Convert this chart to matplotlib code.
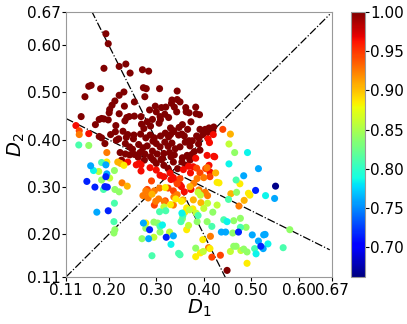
import numpy as np
import matplotlib
matplotlib.use("Agg")
import matplotlib.pyplot as plt

# ── Data (D1, D2) grouped by colour level ────────────────────────────────────
maroon = [
    (0.194, 0.624), (0.199, 0.603),
    (0.190, 0.551), (0.222, 0.555), (0.236, 0.560), (0.245, 0.541), (0.271, 0.548), (0.284, 0.545),
    (0.158, 0.513), (0.163, 0.515), (0.183, 0.508), (0.273, 0.510), (0.279, 0.508), (0.307, 0.508),
    (0.344, 0.503), (0.232, 0.501), (0.222, 0.494), (0.150, 0.491), (0.276, 0.491), (0.254, 0.480),
    (0.142, 0.449),
    (0.213, 0.482), (0.207, 0.473), (0.202, 0.464), (0.201, 0.457), (0.233, 0.471), (0.222, 0.455),
    (0.254, 0.450), (0.286, 0.463), (0.298, 0.471), (0.300, 0.459), (0.311, 0.468), (0.320, 0.469),
    (0.332, 0.477), (0.333, 0.484), (0.344, 0.485), (0.350, 0.480), (0.338, 0.469), (0.343, 0.459),
    (0.362, 0.468), (0.363, 0.459), (0.369, 0.457), (0.383, 0.469), (0.384, 0.455), (0.391, 0.453),
    (0.318, 0.454), (0.308, 0.449),
    (0.180, 0.443), (0.185, 0.445), (0.190, 0.444), (0.172, 0.432), (0.199, 0.442), (0.215, 0.430),
    (0.234, 0.440), (0.238, 0.447), (0.243, 0.449), (0.268, 0.449), (0.269, 0.433), (0.274, 0.424),
    (0.281, 0.438), (0.288, 0.429), (0.292, 0.443), (0.306, 0.435), (0.309, 0.443), (0.326, 0.447),
    (0.330, 0.425), (0.337, 0.419), (0.348, 0.426), (0.355, 0.432), (0.366, 0.422), (0.373, 0.438),
    (0.392, 0.422), (0.403, 0.422), (0.411, 0.425), (0.421, 0.427), (0.214, 0.417), (0.230, 0.418),
    (0.240, 0.411), (0.253, 0.410),
    (0.180, 0.407), (0.185, 0.404), (0.204, 0.411), (0.221, 0.402), (0.237, 0.405), (0.252, 0.402),
    (0.267, 0.412), (0.278, 0.404), (0.287, 0.410), (0.296, 0.404), (0.309, 0.408), (0.319, 0.414),
    (0.326, 0.406), (0.330, 0.411), (0.336, 0.417), (0.347, 0.410), (0.354, 0.412), (0.359, 0.408),
    (0.369, 0.398), (0.385, 0.408), (0.390, 0.403), (0.398, 0.411), (0.408, 0.416), (0.419, 0.418),
    (0.192, 0.392), (0.216, 0.399), (0.235, 0.392), (0.244, 0.385), (0.250, 0.380), (0.263, 0.390),
    (0.272, 0.383), (0.281, 0.387), (0.293, 0.397), (0.300, 0.392), (0.308, 0.385), (0.318, 0.395),
    (0.325, 0.386), (0.333, 0.393), (0.340, 0.381), (0.350, 0.385), (0.361, 0.395), (0.371, 0.387),
    (0.376, 0.398), (0.389, 0.391), (0.375, 0.369), (0.366, 0.365), (0.355, 0.362), (0.338, 0.368),
    (0.328, 0.373), (0.316, 0.371), (0.302, 0.370), (0.292, 0.376), (0.276, 0.370), (0.266, 0.373),
    (0.254, 0.369), (0.244, 0.368), (0.235, 0.370), (0.224, 0.373),
    (0.275, 0.357), (0.288, 0.364), (0.294, 0.357), (0.313, 0.360), (0.331, 0.364), (0.336, 0.353),
    (0.325, 0.339), (0.345, 0.339), (0.354, 0.353), (0.365, 0.367), (0.371, 0.357), (0.362, 0.346),
    (0.300, 0.350), (0.316, 0.346), (0.227, 0.357), (0.262, 0.363), (0.380, 0.375), (0.392, 0.378),
    (0.310, 0.358), (0.449, 0.124),
]
red = [
    (0.131, 0.430), (0.158, 0.413), (0.240, 0.353), (0.258, 0.347), (0.264, 0.350), (0.268, 0.347),
    (0.268, 0.334), (0.287, 0.341), (0.300, 0.336), (0.308, 0.325), (0.316, 0.322), (0.329, 0.330),
    (0.331, 0.316), (0.343, 0.312), (0.350, 0.305), (0.353, 0.301), (0.357, 0.337), (0.368, 0.344),
    (0.378, 0.343), (0.383, 0.361), (0.407, 0.367), (0.409, 0.402), (0.412, 0.394), (0.420, 0.411),
    (0.421, 0.365), (0.423, 0.364), (0.411, 0.346), (0.413, 0.332), (0.372, 0.330), (0.373, 0.295),
    (0.359, 0.290), (0.336, 0.320),
]
orange_red = [
    (0.138, 0.419), (0.440, 0.422), (0.392, 0.330), (0.385, 0.340), (0.290, 0.313), (0.281, 0.295),
    (0.350, 0.318), (0.344, 0.307), (0.417, 0.152), (0.435, 0.156), (0.319, 0.271), (0.296, 0.262),
    (0.336, 0.292), (0.325, 0.298), (0.404, 0.339), (0.413, 0.322),
]
orange = [
    (0.138, 0.411), (0.196, 0.373), (0.228, 0.309), (0.474, 0.260), (0.414, 0.196), (0.410, 0.172),
    (0.407, 0.341), (0.400, 0.320), (0.386, 0.318), (0.379, 0.308), (0.390, 0.294), (0.403, 0.289),
    (0.408, 0.282), (0.285, 0.288), (0.278, 0.292), (0.305, 0.275), (0.337, 0.279), (0.336, 0.262),
    (0.344, 0.284), (0.299, 0.270), (0.317, 0.269), (0.296, 0.292), (0.283, 0.277), (0.307, 0.298),
    (0.272, 0.282),
]
yellow_orange = [
    (0.456, 0.412), (0.457, 0.286), (0.485, 0.272), (0.239, 0.302), (0.219, 0.353), (0.225, 0.350),
    (0.371, 0.301), (0.378, 0.273), (0.394, 0.267), (0.356, 0.273), (0.425, 0.330), (0.291, 0.285),
]
yellow = [
    (0.428, 0.310), (0.476, 0.307), (0.494, 0.287), (0.497, 0.283), (0.398, 0.189), (0.413, 0.170),
    (0.393, 0.161), (0.383, 0.153), (0.491, 0.139), (0.364, 0.210), (0.278, 0.224), (0.319, 0.299),
    (0.353, 0.270), (0.341, 0.275), (0.330, 0.263), (0.364, 0.256), (0.377, 0.254), (0.432, 0.309),
    (0.196, 0.353), (0.232, 0.346), (0.360, 0.247),
]
yellow_green = [
    (0.453, 0.391), (0.179, 0.333), (0.202, 0.319), (0.428, 0.262), (0.456, 0.164), (0.399, 0.164),
    (0.384, 0.245), (0.370, 0.252), (0.400, 0.255), (0.295, 0.194), (0.328, 0.205), (0.388, 0.289),
    (0.393, 0.283), (0.408, 0.266), (0.368, 0.219), (0.316, 0.258), (0.478, 0.166),
]
light_green = [
    (0.158, 0.388), (0.465, 0.373), (0.469, 0.289), (0.185, 0.315), (0.212, 0.335), (0.213, 0.295),
    (0.222, 0.290), (0.213, 0.210), (0.211, 0.203), (0.463, 0.229), (0.477, 0.234), (0.489, 0.215),
    (0.461, 0.203), (0.581, 0.210), (0.491, 0.163), (0.484, 0.169), (0.463, 0.175), (0.383, 0.171),
    (0.407, 0.227), (0.355, 0.233), (0.308, 0.205), (0.303, 0.224), (0.295, 0.226), (0.278, 0.213),
    (0.270, 0.191), (0.419, 0.247), (0.468, 0.175), (0.386, 0.227),
]
mint = [
    (0.137, 0.389), (0.468, 0.315), (0.452, 0.274), (0.185, 0.352), (0.189, 0.295), (0.212, 0.266),
    (0.211, 0.227), (0.442, 0.231), (0.477, 0.215), (0.567, 0.172), (0.507, 0.170), (0.417, 0.217),
    (0.352, 0.227), (0.356, 0.240), (0.350, 0.157), (0.347, 0.160), (0.308, 0.217), (0.307, 0.248),
    (0.291, 0.155), (0.320, 0.250), (0.388, 0.240),
]
cyan = [
    (0.168, 0.335), (0.492, 0.373), (0.453, 0.349), (0.530, 0.282), (0.510, 0.159), (0.535, 0.180),
    (0.331, 0.179), (0.354, 0.245), (0.313, 0.220), (0.449, 0.227),
]
light_blue = [
    (0.162, 0.345), (0.515, 0.339), (0.484, 0.324), (0.549, 0.276), (0.194, 0.347), (0.196, 0.328),
    (0.175, 0.247), (0.273, 0.224), (0.284, 0.191), (0.336, 0.197), (0.446, 0.205), (0.437, 0.205),
    (0.502, 0.199), (0.526, 0.199), (0.515, 0.186), (0.525, 0.170), (0.529, 0.200),
]
blue = [
    (0.154, 0.312), (0.171, 0.300), (0.192, 0.301), (0.197, 0.300), (0.194, 0.322), (0.199, 0.250),
    (0.286, 0.210), (0.321, 0.194), (0.473, 0.205), (0.509, 0.293), (0.520, 0.175),
]
navy = [(0.551, 0.302)]

groups = [
    (maroon, 1.00), (red, 0.965), (orange_red, 0.945), (orange, 0.925),
    (yellow_orange, 0.905), (yellow, 0.885), (yellow_green, 0.86), (light_green, 0.84),
    (mint, 0.81), (cyan, 0.785), (light_blue, 0.76), (blue, 0.715), (navy, 0.665),
]

TICKS = [0.11, 0.20, 0.30, 0.40, 0.50, 0.60, 0.67]
CB_TICKS = [0.70, 0.75, 0.80, 0.85, 0.90, 0.95, 1.00]
VMIN, VMAX = 0.662, 1.0

d1 = np.concatenate([np.array(g)[:, 0] for g, _ in groups])
d2 = np.concatenate([np.array(g)[:, 1] for g, _ in groups])
score = np.concatenate([np.full(len(g), v) for g, v in groups])

# ── Plot ─────────────────────────────────────────────────────────────────────
fig = plt.figure(figsize=(4.07, 3.24), dpi=100)
ax = fig.add_axes([0.162, 0.145, 0.654, 0.818])
cax = fig.add_axes([0.862, 0.145, 0.034, 0.818])

sc = ax.scatter(d1, d2, c=score, cmap="jet", vmin=VMIN, vmax=VMAX,
                s=26, linewidths=0, zorder=3)

xs = np.linspace(0.11, 0.665, 200)
ax.plot(xs, xs, "k-.", lw=0.9, zorder=2)
ax.plot(xs, (1 - xs) / 2, "k-.", lw=0.9, zorder=2)
ax.plot(xs, 1 - 2 * xs, "k-.", lw=0.9, zorder=2)

ax.set_xlim(0.11, 0.67)
ax.set_ylim(0.11, 0.67)
ax.set_xticks(TICKS)
ax.set_yticks(TICKS)
ax.set_xticklabels([f"{t:.2f}" for t in TICKS])
ax.set_yticklabels([f"{t:.2f}" for t in TICKS])
ax.tick_params(labelsize=11, length=3, pad=1)
ax.set_xlabel("$D_1$", fontsize=14, labelpad=0)
ax.set_ylabel("$D_2$", fontsize=14, labelpad=0)
for spine in ax.spines.values():
    spine.set_color("#999999")

cb = fig.colorbar(sc, cax=cax)
cb.set_ticks(CB_TICKS)
cb.ax.set_yticklabels([f"{t:.2f}" for t in CB_TICKS])
cb.ax.tick_params(labelsize=11, length=3, pad=1)
cb.outline.set_edgecolor("#999999")

fig.savefig("out.png", dpi=100)
